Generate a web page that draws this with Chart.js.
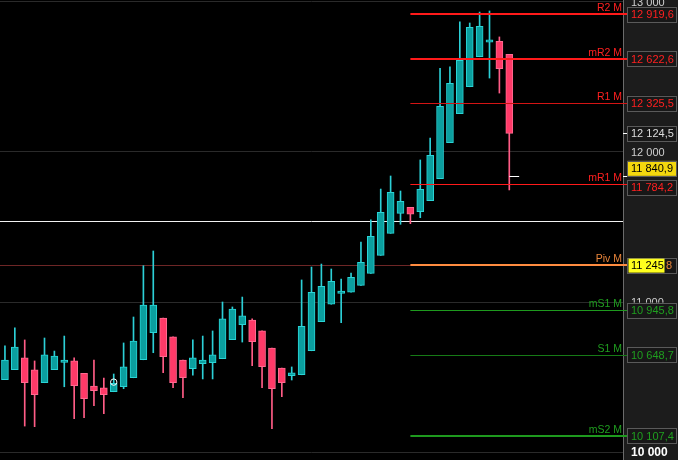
<!DOCTYPE html>
<html>
<head>
<meta charset="utf-8">
<script src="https://cdn.jsdelivr.net/npm/chart.js@4.4.1/dist/chart.umd.min.js"></script>
<style>
  html, body { margin: 0; padding: 0; background: #000; overflow: hidden; }
</style>
</head>
<body>
<canvas id="candles" width="678" height="460"></canvas>
<script>
// sessions on the x axis (the last 11 slots are still empty)
const sessions = [
  '1', '2', '3', '4', '5', '6', '7', '8', '9', '10', '11', '12', '13', '14', '15', '16',
  '17', '18', '19', '20', '21', '22', '23', '24', '25', '26', '27', '28', '29', '30', '31', '32',
  '33', '34', '35', '36', '37', '38', '39', '40', '41', '42', '43', '44', '45', '46', '47', '48',
  '49', '50', '51', '52', '53', '54', '55', '56', '57', '58', '59', '60', '61', '62', '63'
]

const opens = [
  10482, 10549, 10627, 10547, 10462, 10549, 10598, 10607, 10525, 10440, 10427, 10402, 10435,
  10495, 10615, 10795, 10893, 10767, 10613, 10555, 10589, 10595, 10622, 10749, 10849, 10880,
  10807, 10693, 10560, 10509, 10515, 10675, 10869, 10985, 11058, 11065, 11111, 11191, 11311,
  11458, 11591, 11631, 11602, 11675, 11822, 12062, 12255, 12435, 12635, 12733, 12738, 12651
]
const highs = [
  10707, 10827, 10747, 10607, 10760, 10673, 10773, 10627, 10525, 10613, 10493, 10520, 10727,
  10900, 11242, 11340, 10893, 10767, 10613, 10747, 10773, 10807, 11000, 10967, 11033, 10887,
  10807, 10693, 10560, 10567, 11147, 11233, 11253, 11220, 11153, 11193, 11400, 11547, 11753,
  11840, 11740, 11631, 11947, 12093, 12558, 12567, 12867, 12860, 12933, 12940, 12767, 12651
]
const lows = [
  10482, 10549, 10173, 10169, 10462, 10549, 10435, 10222, 10229, 10309, 10255, 10402, 10422,
  10495, 10615, 10662, 10529, 10429, 10362, 10513, 10487, 10487, 10622, 10749, 10733, 10575,
  10429, 10155, 10369, 10480, 10515, 10675, 10869, 10985, 10862, 11065, 11111, 11191, 11311,
  11458, 11518, 11522, 11562, 11675, 11822, 12062, 12255, 12435, 12635, 12493, 12393, 11747
]
const closes = [
  10613, 10700, 10462, 10382, 10647, 10640, 10613, 10442, 10355, 10409, 10382, 10458, 10567,
  10740, 10980, 10980, 10635, 10462, 10495, 10627, 10613, 10647, 10887, 10953, 10907, 10735,
  10569, 10422, 10462, 10527, 10838, 11065, 11105, 11138, 11072, 11165, 11265, 11438, 11598,
  11731, 11671, 11585, 11751, 11978, 12305, 12458, 12611, 12831, 12838, 12747, 12555, 12124.5
]

// monthly pivot levels, drawn from the first session of the month
const pivotNames = ['R2 M', 'mR2 M', 'R1 M', 'mR1 M', 'Piv M', 'mS1 M', 'S1 M', 'mS2 M']
const pivotValues = [12919.6, 12622.6, 12325.5, 11784.2, 11245.8, 10945.8, 10648.7, 10107.4]
const pivotStart = 41

const yTicks = [10000, 11000, 12000, 13000]
const currentPrice = 11840.9
const referenceLevel = 11540
const markerIndex = 11
const markerValue = 10466

const UP = { fill: '#0b9f9f', border: '#2ad4d6', wick: '#2ccfd6' }
const DOWN = { fill: '#ff3a68', border: '#ff6a90', wick: '#ff5c86' }
const pivotStyle = [
  { color: '#ff1a1a', width: 2 },
  { color: '#ff1a1a', width: 2 },
  { color: '#d41414', width: 1 },
  { color: '#ff1a1a', width: 1 },
  { color: '#ff8c40', width: 2 },
  { color: '#1e9a1e', width: 1 },
  { color: '#167a16', width: 1 },
  { color: '#1e9a1e', width: 2 }
]
const labelColor = ['#ff2020', '#ff2020', '#ff2020', '#ff2020', '#e8843a', '#1f9f1f', '#1f9f1f', '#1f9f1f']

const isUp = opens.map((o, i) => closes[i] >= o)

function fmt (v, decimals) {
  const parts = v.toFixed(decimals).split('.')
  const whole = parts[0].replace(/\B(?=(\d{3})+(?!\d))/g, ' ')
  return parts.length > 1 ? whole + ',' + parts[1] : whole
}

const BOX_LEFT = 627.5
const BOX_W = 49
const BOX_H = 15

function drawBox (ctx, top, text, textColor, fill) {
  ctx.fillStyle = fill || '#171717'
  ctx.fillRect(BOX_LEFT, top, BOX_W, BOX_H)
  ctx.strokeStyle = '#5a5a5a'
  ctx.lineWidth = 1
  ctx.strokeRect(BOX_LEFT, Math.round(top) + 0.5, BOX_W, BOX_H)
  ctx.fillStyle = textColor
  ctx.font = '11px "Liberation Sans", Arial, sans-serif'
  ctx.textAlign = 'left'
  ctx.textBaseline = 'middle'
  ctx.fillText(text, 631, top + BOX_H / 2 + 1)
}

const overlay = {
  id: 'overlay',
  beforeDraw (chart) {
    const { ctx, chartArea } = chart
    ctx.save()
    ctx.fillStyle = '#000'
    ctx.fillRect(0, 0, chart.width, chart.height)
    ctx.fillStyle = '#1c1c1c'
    ctx.fillRect(chartArea.right, 0, chart.width - chartArea.right, chart.height)
    ctx.restore()
  },
  beforeDatasetsDraw (chart) {
    const { ctx, chartArea, scales: { y } } = chart
    ctx.save()
    ctx.lineWidth = 1
    // reference level, full width
    let py = Math.round(y.getPixelForValue(referenceLevel)) + 0.5
    ctx.strokeStyle = '#f2f2f2'
    ctx.beginPath(); ctx.moveTo(chartArea.left, py); ctx.lineTo(chartArea.right, py); ctx.stroke()
    // pivot extension, full width
    py = Math.round(y.getPixelForValue(pivotValues[4])) + 0.5
    ctx.strokeStyle = '#6e2626'
    ctx.beginPath(); ctx.moveTo(chartArea.left, py); ctx.lineTo(chartArea.right, py); ctx.stroke()
    ctx.restore()
  },
  afterDatasetsDraw (chart) {
    const { ctx, chartArea, scales: { x, y } } = chart
    ctx.save()
    const x0 = x.getPixelForValue(pivotStart)
    pivotValues.forEach((v, i) => {
      const st = pivotStyle[i]
      const py = y.getPixelForValue(v)
      const yy = st.width === 1 ? Math.round(py) + 0.5 : Math.round(py)
      ctx.strokeStyle = st.color
      ctx.lineWidth = st.width
      ctx.beginPath(); ctx.moveTo(x0, yy); ctx.lineTo(BOX_LEFT, yy); ctx.stroke()
      ctx.fillStyle = labelColor[i]
      ctx.font = '10.5px "Liberation Sans", Arial, sans-serif'
      ctx.textAlign = 'right'
      ctx.textBaseline = 'alphabetic'
      ctx.fillText(pivotNames[i], chartArea.right - 1, Math.round(py) - 3)
    })
    // current price tick right of the last candle
    const last = closes.length - 1
    const cy = Math.round(y.getPixelForValue(currentPrice)) + 0.5
    ctx.strokeStyle = '#ffffff'
    ctx.lineWidth = 1
    ctx.beginPath(); ctx.moveTo(x.getPixelForValue(last), cy); ctx.lineTo(x.getPixelForValue(last + 1), cy); ctx.stroke()
    ctx.restore()
  },
  afterDraw (chart) {
    const { ctx, chartArea, scales: { y } } = chart
    ctx.save()
    // axis labels
    ctx.textAlign = 'left'
    ctx.textBaseline = 'middle'
    y.ticks.forEach((t, i) => {
      const py = y.getPixelForValue(t.value)
      if (i === 0) {
        ctx.font = 'bold 12px "Liberation Sans", Arial, sans-serif'
        ctx.fillStyle = '#ffffff'
      } else {
        ctx.font = '11px "Liberation Sans", Arial, sans-serif'
        ctx.fillStyle = '#cfcfcf'
      }
      ctx.fillText(fmt(t.value, 0), 631, py + 1)
    })
    // small white ticks for last close and current price
    ctx.strokeStyle = '#ffffff'
    ctx.lineWidth = 1
    ;[closes[closes.length - 1], currentPrice].forEach(v => {
      const py = Math.round(y.getPixelForValue(v)) + 0.5
      ctx.beginPath(); ctx.moveTo(chartArea.right, py); ctx.lineTo(BOX_LEFT, py); ctx.stroke()
    })
    // last close box
    const lc = closes[closes.length - 1]
    drawBox(ctx, y.getPixelForValue(lc) - BOX_H / 2, fmt(lc, 1), '#dcdcdc')
    // pivot boxes
    pivotValues.forEach((v, i) => {
      const py = y.getPixelForValue(v)
      if (i === 4) {
        const top = py - BOX_H / 2
        drawBox(ctx, top, '', labelColor[i])
        ctx.fillStyle = '#ffff1e'
        ctx.fillRect(BOX_LEFT + 1, top + 1, 36, BOX_H - 1)
        ctx.fillStyle = '#000'
        ctx.font = '11px "Liberation Sans", Arial, sans-serif'
        ctx.fillText(fmt(v, 1).split(',')[0], 631, top + BOX_H / 2 + 1)
        ctx.fillStyle = '#e8843a'
        ctx.fillText(fmt(v, 1).split(',')[1], 666, top + BOX_H / 2 + 1)
      } else {
        const shift = i === 3 ? 3 : 0 // keeps clear of the current price box
        drawBox(ctx, py - BOX_H / 2 + shift, fmt(v, 1), labelColor[i])
      }
    })
    // current price box
    const cp = y.getPixelForValue(currentPrice)
    drawBox(ctx, cp - BOX_H, fmt(currentPrice, 1), '#000000', '#f4d80e')
    ctx.restore()
  }
}

new Chart(document.getElementById('candles'), {
  type: 'bar',
  data: {
    labels: sessions,
    datasets: [
      {
        type: 'line',
        data: sessions.map((s, i) => (i === markerIndex ? markerValue : null)),
        showLine: false,
        pointRadius: 3.2,
        pointBorderColor: '#ffffff',
        pointBackgroundColor: 'rgba(0,0,0,0)',
        pointBorderWidth: 1
      },
      {
        data: opens.map((o, i) => [o, closes[i]]),
        backgroundColor: isUp.map(u => (u ? UP.fill : DOWN.fill)),
        borderColor: isUp.map(u => (u ? UP.border : DOWN.border)),
        borderWidth: 1,
        borderSkipped: false,
        barThickness: 7,
        grouped: false
      },
      {
        data: lows.map((l, i) => [l, highs[i]]),
        backgroundColor: isUp.map(u => (u ? UP.wick : DOWN.wick)),
        borderWidth: 0,
        barThickness: 1,
        grouped: false
      }
    ]
  },
  options: {
    responsive: false,
    animation: false,
    devicePixelRatio: 1,
    layout: { padding: 0, autoPadding: false },
    plugins: {
      legend: { display: false },
      tooltip: { enabled: false }
    },
    scales: {
      x: {
        type: 'category',
        display: false,
        offset: true,
        grid: { display: false }
      },
      y: {
        position: 'right',
        min: 9946.7,
        max: 13013.3,
        afterBuildTicks: s => { s.ticks = yTicks.map(v => ({ value: v })) },
        afterFit: s => { s.width = 55 },
        ticks: { display: false },
        grid: { color: '#2a2a2a', drawTicks: false },
        border: { display: true, color: '#6b6b6b' }
      }
    }
  },
  plugins: [overlay]
})
</script>
</body>
</html>
